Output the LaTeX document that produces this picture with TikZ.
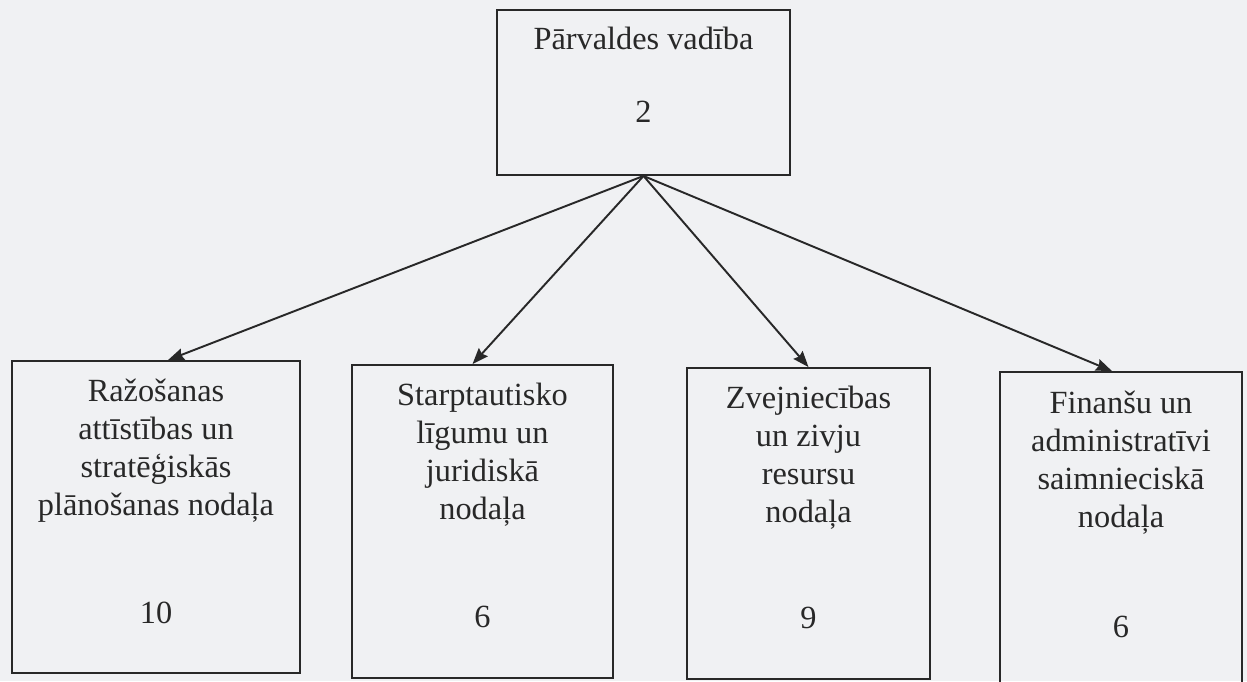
\documentclass[tikz,border=0pt]{standalone}
\usepackage{fontspec}
\setmainfont{Liberation Serif}
\usetikzlibrary{arrows.meta}
\tikzset{>={Stealth[length=0.32cm,width=0.24cm,inset=0.04cm]}}
\definecolor{paper}{RGB}{240,241,243}
\definecolor{ink}{RGB}{40,40,40}

\begin{document}
\begin{tikzpicture}[x=0.02cm,y=-0.02cm]

\tikzstyle{box}=[draw=ink,line width=1.1pt,inner sep=0pt]
\tikzstyle{lab}=[anchor=base,align=center,inner sep=0pt,text=ink,
                 font=\fontsize{18.4}{21.6}\selectfont]

  \fill[paper] (0,0) rectangle (1247,681);
  \useasboundingbox (0,0) rectangle (1247,681);

  % boxes
  \node[box,minimum width=5.86cm,minimum height=3.3cm]  (top) at (643.5,92.5) {};
  \node[box,minimum width=5.76cm,minimum height=6.24cm] (raz) at (156,517) {};
  \node[box,minimum width=5.22cm,minimum height=6.26cm] (sta) at (482.5,521.5) {};
  \node[box,minimum width=4.86cm,minimum height=6.22cm] (zve) at (808.5,523.5) {};
  \node[box,minimum width=4.84cm,minimum height=6.36cm] (fin) at (1121,531) {};

  % texts (base = last line)
  \node[lab] (top-t) at ([yshift=-0.8cm]top.north) {Pārvaldes vadība};
  \node[lab] (top-n) at ([yshift=1.06cm]top.south) {2};

  \node[lab] (raz-t) at ([yshift=-3.1cm]raz.north)
        {Ražošanas\\ attīstības un\\ stratēģiskās\\ plānošanas nodaļa};
  \node[lab] (raz-n) at ([yshift=1.0cm]raz.south) {10};

  \node[lab] (sta-t) at ([yshift=-3.1cm]sta.north)
        {Starptautisko\\ līgumu un\\ juridiskā\\ nodaļa};
  \node[lab] (sta-n) at ([yshift=1.02cm]sta.south) {6};

  \node[lab] (zve-t) at ([yshift=-3.1cm]zve.north)
        {Zvejniecības\\ un zivju\\ resursu\\ nodaļa};
  \node[lab] (zve-n) at ([yshift=1.02cm]zve.south) {9};

  \node[lab] (fin-t) at ([yshift=-3.12cm]fin.north)
        {Finanšu un\\ administratīvi\\ saimnieciskā\\ nodaļa};
  \node[lab] (fin-n) at ([yshift=1.06cm]fin.south) {6};

  % arrows
  \draw[->,ink,line width=1.1pt] (top.south) -- ([xshift=0.24cm]raz.north);
  \draw[->,ink,line width=1.1pt] (top.south) -- ([xshift=-0.2cm]sta.north);
  \draw[->,ink,line width=1.1pt] (top.south) -- (zve.north);
  \draw[->,ink,line width=1.1pt] (top.south) -- ([xshift=-0.18cm]fin.north);

\end{tikzpicture}
\end{document}
